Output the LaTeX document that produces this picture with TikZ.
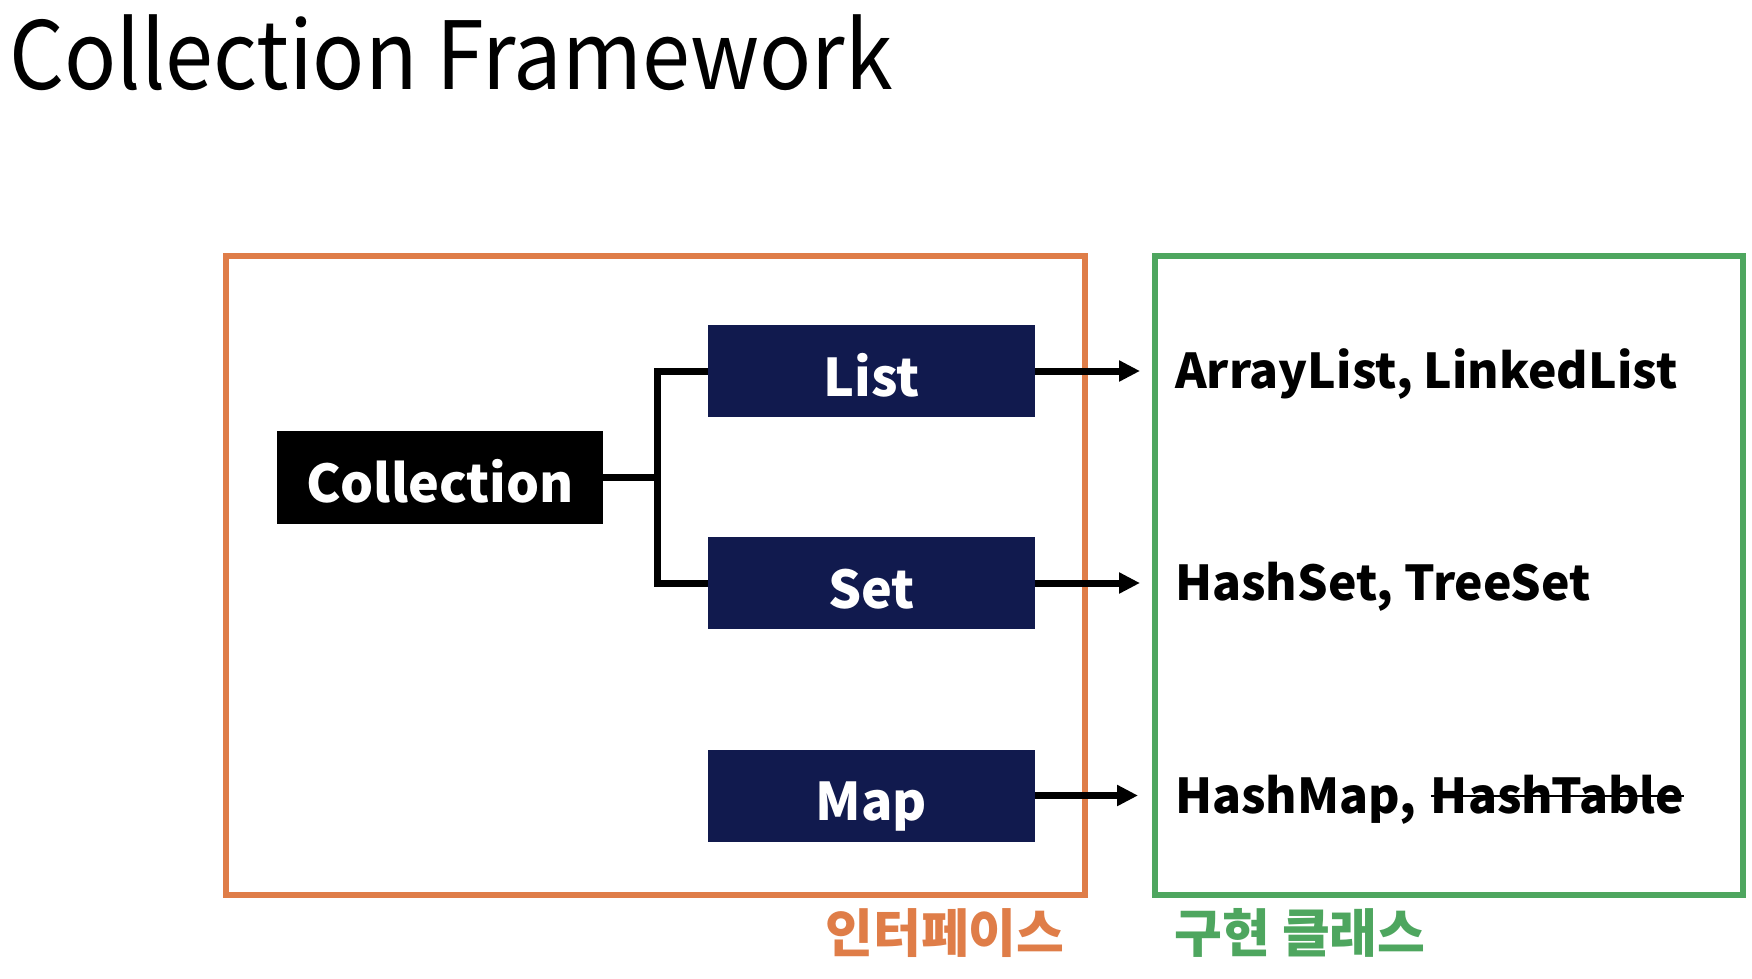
\documentclass[tikz,border=0pt]{standalone}
\usepackage{fontspec}
\setmainfont{Noto Sans CJK KR}
\usetikzlibrary{arrows.meta}
\definecolor{navy}{HTML}{111A4E}
\definecolor{orng}{HTML}{DF7D48}
\definecolor{grn}{HTML}{4EA65F}
\tikzset{
  frame/.style={draw, line width=6.5pt},
  ibox/.style={fill=navy, minimum width=327pt, minimum height=92pt, inner sep=0pt, text height=50pt, text depth=0pt, text=white, font=\bfseries\fontsize{52}{56}\selectfont},
  cbox/.style={fill=black, minimum width=326pt, minimum height=93pt, inner sep=0pt, text height=50pt, text depth=0pt, text=white, font=\bfseries\fontsize{52}{56}\selectfont},
  conn/.style={line width=7pt},
  arr/.style={line width=7pt, -{Triangle[length=21pt,width=20pt]}},
  impl/.style={anchor=base west, inner sep=0pt, font=\bfseries\fontsize{48}{52}\selectfont},
  lab/.style={inner sep=0pt, font=\bfseries\fontsize{52}{56}\selectfont}
}
\begin{document}
\begin{tikzpicture}[x=1pt,y=-1pt]
\useasboundingbox (0,0) rectangle (1752,978);
\fill[white] (0,0) rectangle (1752,978);
\node[anchor=base west, inner sep=0pt, font=\fontsize{94}{100}\selectfont] (title) at (9,89) {\scalebox{0.918}[1]{Collection Framework}};
\draw[frame, orng] (226,256) rectangle (1085,895);
\draw[frame, grn] (1155,256) rectangle (1743,895);
\node[cbox] (coll) at (440,477) {Collection};
\node[ibox] (list) at (871.5,371) {List};
\node[ibox] (set) at (871.5,583) {Set};
\node[ibox] (map) at (871.5,795.5) {Map};
\coordinate (j) at (657,477);
\draw[conn] (list.west) -| (j) |- (set.west);
\draw[conn] (coll.east) -- (j);
\coordinate (a1) at (1140,371);
\coordinate (a2) at (1140,583);
\coordinate (a3) at (1138,795.5);
\draw[arr] (list.east) -- (a1);
\draw[arr] (set.east) -- (a2);
\draw[arr] (map.east) -- (a3);
\node[impl] (t1) at (1175,388) {ArrayList, LinkedList};
\node[impl] (t2) at (1175,600) {HashSet, TreeSet};
\node[impl] (t3) at (1175,813) {HashMap,};
\node[impl, xshift=14pt] (t4) at (t3.base east) {HashTable};
\draw[line width=2.2pt] ([yshift=17pt]t4.base west) -- ([yshift=17pt]t4.base east);
\node[lab, text=orng] (li) at (945,933) {인터페이스};
\node[lab, text=grn] (lc) at (1300,933) {구현 클래스};
\end{tikzpicture}
\end{document}
